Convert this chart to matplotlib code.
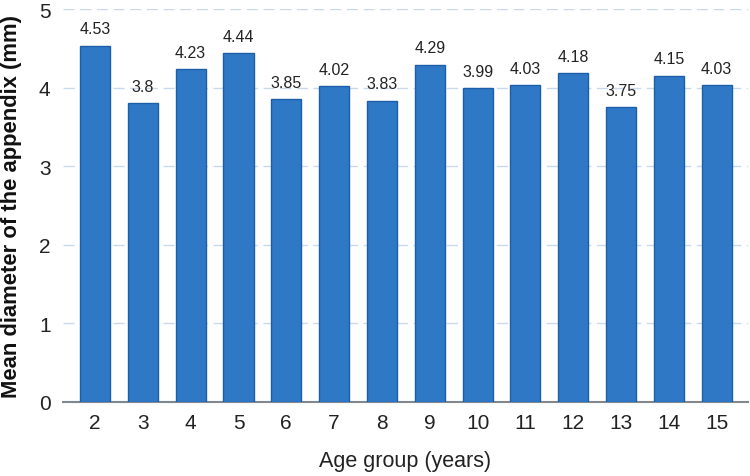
import matplotlib
matplotlib.use("Agg")
import matplotlib.pyplot as plt

ages = ["2", "3", "4", "5", "6", "7", "8", "9", "10", "11", "12", "13", "14", "15"]
diam = [4.53, 3.8, 4.23, 4.44, 3.85, 4.02, 3.83, 4.29, 3.99, 4.03, 4.18, 3.75, 4.15, 4.03]
labels = ["4.53", "3.8", "4.23", "4.44", "3.85", "4.02", "3.83", "4.29", "3.99", "4.03", "4.18", "3.75", "4.15", "4.03"]
yticks = [0, 1, 2, 3, 4, 5]

plt.rcParams['font.family'] = ['Liberation Sans', 'DejaVu Sans']

fig = plt.figure(figsize=(7.5, 4.77), dpi=100)
ax = fig.add_axes([0.084, 0.156, 0.913, 0.823])

x = list(range(len(ages)))
bars = ax.bar(x, diam, width=0.63, color='#2f78c6', edgecolor='#1d5ea8', linewidth=1.0, zorder=3)
for xi, v, lab in zip(x, diam, labels):
    ax.text(xi, v + 0.12, lab, ha='center', va='bottom', fontsize=11.5, color='#222222', zorder=4)

ax.set_xlim(-0.67, len(ages) - 1 + 0.65)
ax.set_ylim(0, 5)
ax.set_yticks(yticks)
ax.set_xticks(x)
ax.set_xticklabels(ages)
ax.yaxis.grid(True, color='#c9d9ec', linestyle=(0, (8, 4)), linewidth=1.0, zorder=0)
for s in ['top', 'right', 'left']:
    ax.spines[s].set_visible(False)
ax.spines['bottom'].set_color('#808890')
ax.spines['bottom'].set_linewidth(1.5)
ax.tick_params(axis='both', length=0, labelsize=15, colors='#222222')
ax.tick_params(axis='x', pad=8)
ax.tick_params(axis='y', pad=9)
ax.set_xlabel("Age group (years)", fontsize=15.5, labelpad=13, color='#222222')
ax.set_ylabel("Mean diameter of the appendix (mm)", fontsize=15.8, fontweight='bold', labelpad=12, color='#111111')

fig.savefig("out.png", dpi=100)
